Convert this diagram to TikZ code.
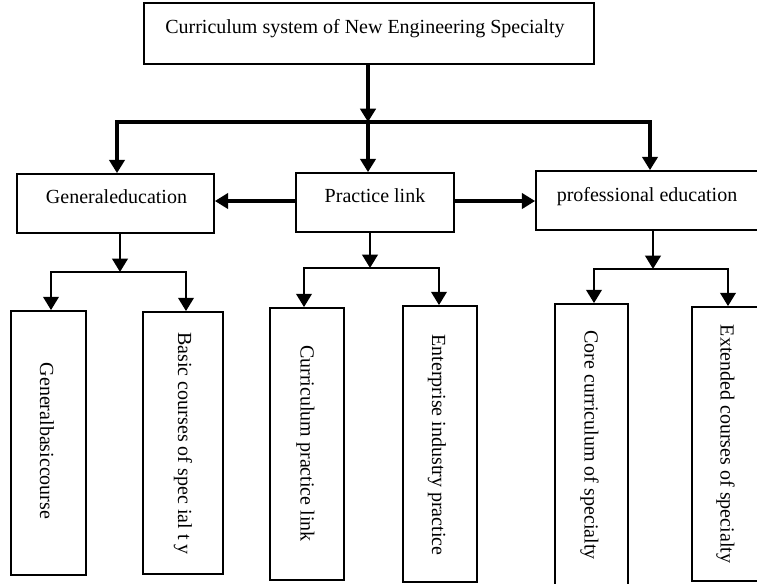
\documentclass[tikz,border=0pt]{standalone}
\usepackage{fontspec}
\setmainfont{Liberation Serif}
\usetikzlibrary{arrows.meta,fit}
\begin{document}
\begin{tikzpicture}[x=0.75pt,y=-0.75pt,
  box/.style={draw,line width=1.3pt,inner sep=0pt},
  txt/.style={font=\fontsize{15}{18}\selectfont,inner sep=0pt},
  vtxt/.style={font=\fontsize{15}{18}\selectfont,inner sep=0pt,rotate=-90},
  arrT/.style={line width=2.5pt,line join=miter,-{Triangle[width=11.5pt,length=10pt]}},
  arrL/.style={line width=2.1pt,line join=miter,-{Triangle[width=11.5pt,length=10pt]}}]
\useasboundingbox (0,0) rectangle (757,583);
\clip (0,0) rectangle (757,583);
% boxes
\node[box,fit={(144,3) (594,64)}] (top) {};
\node[box,fit={(17,174) (214,233)}] (gen) {};
\node[box,fit={(296,173) (454,232)}] (prac) {};
\node[box,fit={(536,171) (775,230)}] (prof) {};
\node[box,fit={(11,311) (86,575)}] (b1) {};
\node[box,fit={(143,312) (223,574)}] (b2) {};
\node[box,fit={(270,308) (344,580)}] (b3) {};
\node[box,fit={(403,306) (477,582)}] (b4) {};
\node[box,fit={(555,304) (628,592)}] (b5) {};
\node[box,fit={(692,307) (759,581)}] (b6) {};
% texts
\node[txt,anchor=base] (ttop) at (365,33) {Curriculum system of New Engineering Specialty};
\node[txt,anchor=base] (tgen) at (116.5,203) {Generaleducation};
\node[txt,anchor=base] (tprac) at (375,202) {Practice link};
\node[txt,anchor=base] (tprof) at (647,201) {professional education};
\node[vtxt] (t1) at (47,441) {Generalbasiccourse};
\node[vtxt] (t2) at (183,443.5) {Basic courses of spec ial t y};
\node[vtxt] (t3) at (305.5,443.5) {Curriculum practice link};
\node[vtxt] (t4) at (437,445) {Enterprise industry practice};
\node[vtxt] (t5) at (589.5,445) {Core curriculum of specialty};
\node[vtxt] (t6) at (725.5,444) {Extended courses of specialty};
% junctions
\coordinate (j0) at (368,122);
\coordinate (bl) at (117,122);
\coordinate (br) at (650,122);
\coordinate (gj) at (120,272);
\coordinate (g1) at (51,272);
\coordinate (g2) at (186,272);
\coordinate (pj) at (370,268);
\coordinate (p1) at (304,268);
\coordinate (p2) at (439,268);
\coordinate (qj) at (653,269);
\coordinate (q1) at (594,269);
\coordinate (q2) at (728,269);
% top level connectors
\draw[arrT] (j0 |- top.south) -- (j0);
\draw[arrT] (j0) -- (bl) -- (bl |- gen.north);
\draw[arrT] (j0) -- (br) -- (br |- prof.north);
\draw[arrT] (j0) -- (j0 |- prac.north);
\draw[arrT] (prac.west |- 0,201) -- (gen.east |- 0,201);
\draw[arrT] (prac.east |- 0,201) -- (prof.west |- 0,201);
% lower connectors
\draw[arrL] (gj |- gen.south) -- (gj);
\draw[arrL] (gj) -- (g1) -- (g1 |- b1.north);
\draw[arrL] (gj) -- (g2) -- (g2 |- b2.north);
\draw[arrL] (pj |- prac.south) -- (pj);
\draw[arrL] (pj) -- (p1) -- (p1 |- b3.north);
\draw[arrL] (pj) -- (p2) -- (p2 |- b4.north);
\draw[arrL] (qj |- prof.south) -- (qj);
\draw[arrL] (qj) -- (q1) -- (q1 |- b5.north);
\draw[arrL] (qj) -- (q2) -- (q2 |- b6.north);
\end{tikzpicture}
\end{document}
